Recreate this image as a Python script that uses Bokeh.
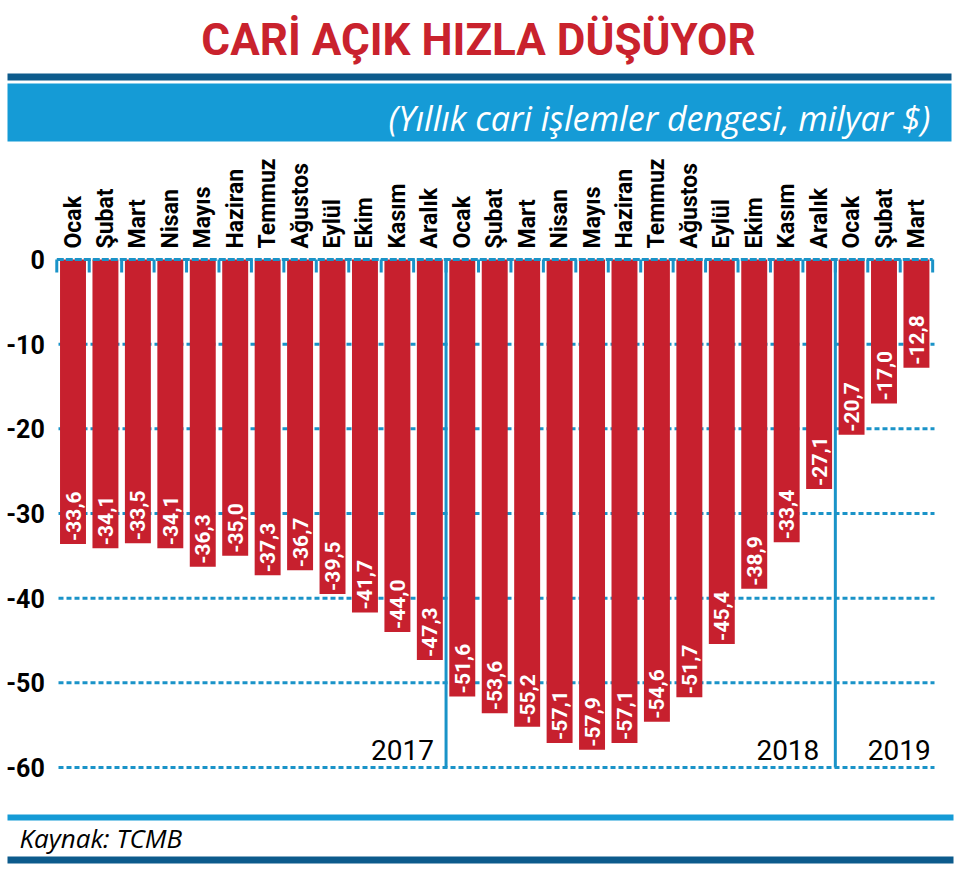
import numpy as np
from bokeh.plotting import figure
from bokeh.models import Range1d, ColumnDataSource
from bokeh.core.properties import value
from bokeh.embed import file_html
from bokeh.resources import INLINE

# ---------------- data ----------------
month_names = ["Ocak", "Şubat", "Mart", "Nisan", "Mayıs", "Haziran", "Temmuz",
               "Ağustos", "Eylül", "Ekim", "Kasım", "Aralık"]
values_2017 = [-33.6, -34.1, -33.5, -34.1, -36.3, -35.0, -37.3, -36.7, -39.5, -41.7, -44.0, -47.3]
values_2018 = [-51.6, -53.6, -55.2, -57.1, -57.9, -57.1, -54.6, -51.7, -45.4, -38.9, -33.4, -27.1]
values_2019 = [-20.7, -17.0, -12.8]
years = ["2017", "2018", "2019"]
y_ticks = [0, -10, -20, -30, -40, -50, -60]
title_text = "CARİ AÇIK HIZLA DÜŞÜYOR"
subtitle_text = "(Yıllık cari işlemler dengesi, milyar $)"
source_text = "Kaynak: TCMB"

# ---------------- styles / layout ----------------
W, H = 959, 875
X0_PX, PX_PER_BAR = 72.5, 32.44     # canvas x of first bar centre, px per bar
Y0_PX, PX_PER_UNIT = 259.0, 508.0 / 60.0  # canvas y of zero, px per unit

def xd(px):
    return (px - X0_PX) / PX_PER_BAR

def yd(py):
    return (Y0_PX - py) / PX_PER_UNIT

RED = "#c7202e"
TITLE_RED = "#c9222d"
BLUE = "#1a93c8"
BAND_BLUE = "#159bd6"
DARK_BLUE = "#0c5b8c"
COND = "Roboto"
ITAL = "Open Sans"

series = [values_2017, values_2018, values_2019]
vals = [v for s in series for v in s]
months = [month_names[i % 12] for i in range(len(vals))]
idx = list(range(len(vals)))
labels = [f"{v:.1f}".replace(".", ",") for v in vals]

p = figure(width=W, height=H,
           x_range=Range1d(xd(0), xd(W)), y_range=Range1d(yd(H), yd(0)),
           output_backend="svg", toolbar_location=None,
           x_axis_type=None, y_axis_type=None, min_border=0, title=None)
p.outline_line_color = None
p.background_fill_color = "white"
p.border_fill_color = "white"

# header decorations
p.quad(left=[xd(7)], right=[xd(951)], top=[yd(73)], bottom=[yd(80)],
       fill_color=DARK_BLUE, line_color=None)
p.quad(left=[xd(7)], right=[xd(951)], top=[yd(83)], bottom=[yd(141)],
       fill_color=BAND_BLUE, line_color=None)
p.text(x=[xd(478)], y=[yd(39)], text=[title_text], text_align="center",
       text_baseline="middle", text_color=TITLE_RED,
       text_font=value(COND), text_font_style="bold", text_font_size="44px")
p.text(x=[xd(930)], y=[yd(117)], text=[subtitle_text], text_align="right",
       text_baseline="middle", text_color="white",
       text_font=value(ITAL), text_font_style="italic", text_font_size="34px")

# footer decorations
p.quad(left=[xd(7)], right=[xd(953)], top=[yd(814)], bottom=[yd(820)],
       fill_color=BAND_BLUE, line_color=None)
p.quad(left=[xd(7)], right=[xd(953)], top=[yd(856)], bottom=[yd(863)],
       fill_color=DARK_BLUE, line_color=None)
p.text(x=[xd(19)], y=[yd(837)], text=[source_text], text_align="left",
       text_baseline="middle", text_color="black",
       text_font=value(ITAL), text_font_style="italic", text_font_size="26px")

# gridlines
grid_y = y_ticks[1:]
p.segment(x0=[xd(58)] * len(grid_y), x1=[xd(934)] * len(grid_y), y0=grid_y, y1=grid_y,
          line_color=BLUE, line_width=3, line_dash="5 3")

# year separators
n17, n18 = len(values_2017), len(values_2018)
sep_x = [n17 - 0.5, n17 + n18 - 0.5]
p.segment(x0=sep_x, x1=sep_x, y0=[0] * 2, y1=[y_ticks[-1]] * 2,
          line_color=BLUE, line_width=3)

# bars
src = ColumnDataSource(dict(x=idx, v=vals, lab=labels, m=months))
p.vbar(x="x", top=0, bottom="v", width=0.8, source=src, fill_color=RED, line_color=None)

# zero line with ticks at bar boundaries
p.segment(x0=[-0.5], x1=[len(vals) - 0.5], y0=[0], y1=[0],
          line_color=BLUE, line_width=3, line_dash="7 2")
bounds = [i - 0.5 for i in range(len(vals) + 1)]
p.segment(x0=bounds, x1=bounds, y0=[0] * len(bounds), y1=[yd(Y0_PX + 13)] * len(bounds),
          line_color=BLUE, line_width=3)

# value labels inside bars
p.text(x="x", y="v", text="lab", source=src, angle=np.pi / 2, y_offset=-3,
       text_align="left", text_baseline="middle", text_color="white",
       text_font=value(COND), text_font_style="bold", text_font_size="21px")

# month labels
p.text(x="x", y=0, text="m", source=src, angle=np.pi / 2, y_offset=-11,
       text_align="left", text_baseline="middle", text_color="black",
       text_font=value(COND), text_font_style="bold", text_font_size="23px")

# y tick labels
p.text(x=[-0.5] * len(y_ticks), y=y_ticks, text=[str(t) for t in y_ticks],
       x_offset=-12, text_align="right", text_baseline="middle", text_color="black",
       text_font=value(COND), text_font_style="bold", text_font_size="25px")

# year labels
year_x = [n17 - 0.5, n17 + n18 - 0.5, len(vals) - 0.5]
year_src = ColumnDataSource(dict(x=year_x, y=[y_ticks[-1]] * 3, t=years, off=[-12, -16, -2]))
p.text(x="x", y="y", text="t", x_offset="off", y_offset=-18, source=year_src,
       text_align="right", text_baseline="middle", text_color="black",
       text_font=value(COND), text_font_size="28px")

open("out.html", "w").write(file_html(p, INLINE))
